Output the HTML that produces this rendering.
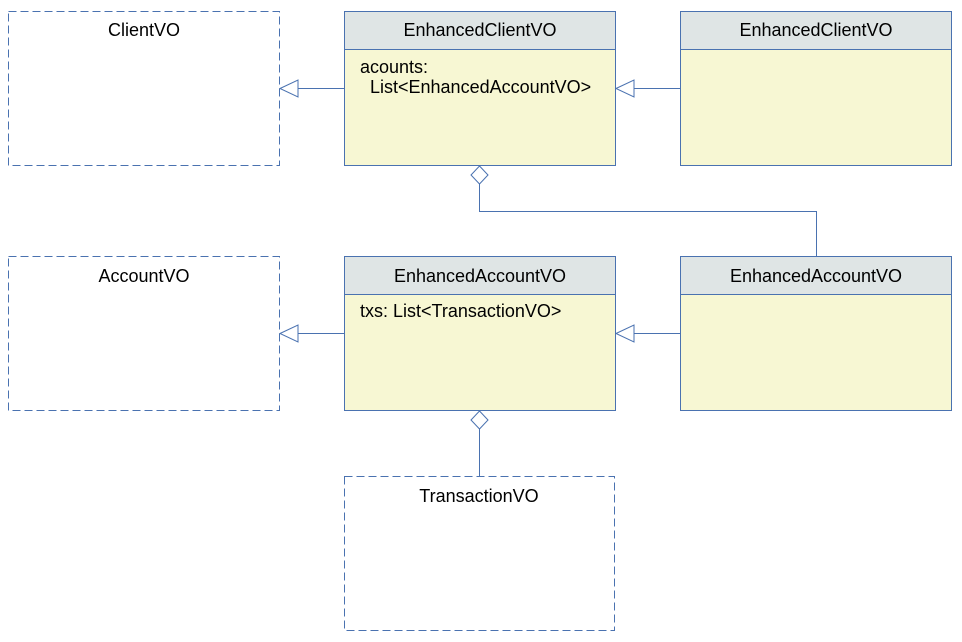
<!DOCTYPE html>
<html><head><meta charset="utf-8"><style>
html,body{margin:0;padding:0;background:#fff;}
svg{display:block;}
text{font-family:"Liberation Sans",sans-serif;font-size:18px;fill:#000;}
</style></head><body>
<svg width="962" height="642" viewBox="0 0 962 642" xmlns="http://www.w3.org/2000/svg">
<g fill="none" stroke="#4a72b0" stroke-width="1" stroke-dasharray="8,4">
<rect x="8.5" y="11.5" width="271" height="154"/>
<rect x="8.5" y="256.5" width="271" height="154"/>
<rect x="344.5" y="476.5" width="270" height="154"/>
</g>
<g stroke="#4a72b0" stroke-width="1">
<rect x="344.5" y="11.5" width="271" height="154" fill="#f7f7d3"/>
<rect x="344.5" y="11.5" width="271" height="38" fill="#dfe5e5"/>
<rect x="680.5" y="11.5" width="271" height="154" fill="#f7f7d3"/>
<rect x="680.5" y="11.5" width="271" height="38" fill="#dfe5e5"/>
<rect x="344.5" y="256.5" width="271" height="154" fill="#f7f7d3"/>
<rect x="344.5" y="256.5" width="271" height="38" fill="#dfe5e5"/>
<rect x="680.5" y="256.5" width="271" height="154" fill="#f7f7d3"/>
<rect x="680.5" y="256.5" width="271" height="38" fill="#dfe5e5"/>
</g>
<g stroke="#4a72b0" stroke-width="1" fill="none">
<line x1="298" y1="88.5" x2="344" y2="88.5"/>
<polygon points="280,88.5 298,80 298,97" fill="#fff"/>
<line x1="634" y1="88.5" x2="680" y2="88.5"/>
<polygon points="616,88.5 634,80 634,97" fill="#fff"/>
<line x1="298" y1="333.5" x2="344" y2="333.5"/>
<polygon points="280,333.5 298,325 298,342" fill="#fff"/>
<line x1="634" y1="333.5" x2="680" y2="333.5"/>
<polygon points="616,333.5 634,325 634,342" fill="#fff"/>
<polyline points="479.5,184 479.5,211.5 816.5,211.5 816.5,256"/>
<polygon points="479.5,166 488,175 479.5,184 471,175" fill="#fff"/>
<line x1="479.5" y1="429" x2="479.5" y2="476"/>
<polygon points="479.5,411 488,420 479.5,429 471,420" fill="#fff"/>
</g>
<g text-anchor="middle">
<text x="144" y="36">ClientVO</text>
<text x="480" y="36">EnhancedClientVO</text>
<text x="816" y="36">EnhancedClientVO</text>
<text x="144" y="282">AccountVO</text>
<text x="480" y="282">EnhancedAccountVO</text>
<text x="816" y="282">EnhancedAccountVO</text>
<text x="479" y="502">TransactionVO</text>
</g>
<text x="360" y="73">acounts:</text>
<text x="370" y="93">List&lt;EnhancedAccountVO&gt;</text>
<text x="360" y="317">txs: List&lt;TransactionVO&gt;</text>
</svg>
</body></html>
